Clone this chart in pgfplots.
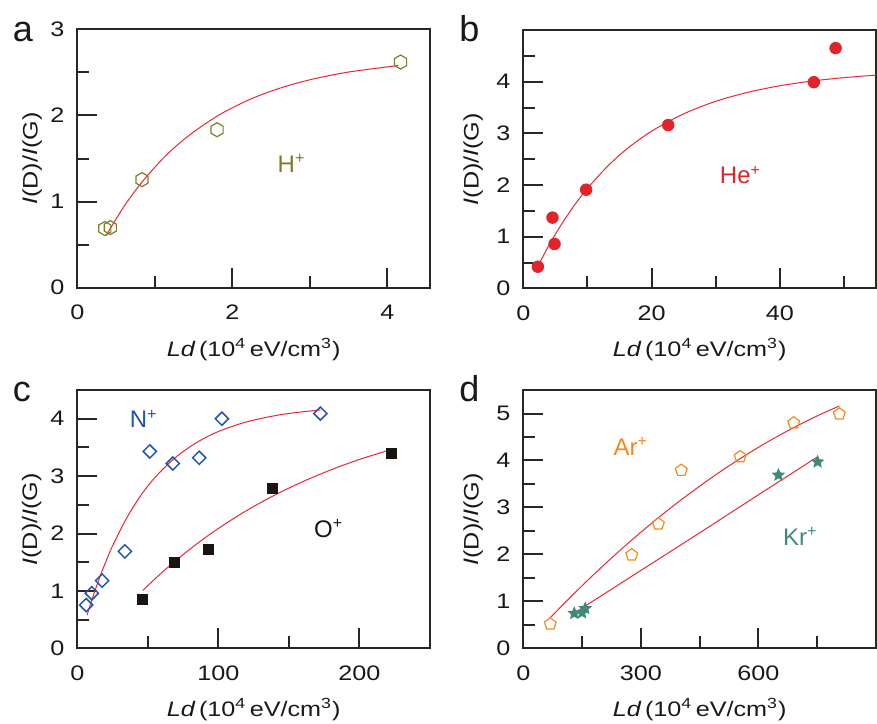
\documentclass[border=0pt]{standalone}
\usepackage{fontspec}
\setmainfont{Liberation Sans}[FakeStretch=1.2]
\newfontfamily\annfont{Liberation Sans}
\usepackage{pgfplots}
\pgfplotsset{compat=1.18}

\definecolor{hcol}{RGB}{125,125,40}
\definecolor{hecol}{RGB}{224,36,42}
\definecolor{ncol}{RGB}{34,85,165}
\definecolor{ocol}{RGB}{26,20,18}
\definecolor{arcol}{RGB}{242,138,31}
\definecolor{krcol}{RGB}{61,138,122}
\definecolor{fitred}{RGB}{232,40,50}
\definecolor{framecol}{RGB}{40,40,34}

\pgfdeclareplotmark{hexagon}{%
  \pgfpathmoveto{\pgfpointpolar{90}{\pgfplotmarksize}}%
  \pgfpathlineto{\pgfpointpolar{150}{\pgfplotmarksize}}%
  \pgfpathlineto{\pgfpointpolar{210}{\pgfplotmarksize}}%
  \pgfpathlineto{\pgfpointpolar{270}{\pgfplotmarksize}}%
  \pgfpathlineto{\pgfpointpolar{330}{\pgfplotmarksize}}%
  \pgfpathlineto{\pgfpointpolar{30}{\pgfplotmarksize}}%
  \pgfpathclose\pgfusepathqstroke}
\pgfdeclareplotmark{rdiamond}{%
  \pgfpathmoveto{\pgfqpoint{0pt}{\pgfplotmarksize}}%
  \pgfpathlineto{\pgfqpoint{\pgfplotmarksize}{0pt}}%
  \pgfpathlineto{\pgfqpoint{0pt}{-\pgfplotmarksize}}%
  \pgfpathlineto{\pgfqpoint{-\pgfplotmarksize}{0pt}}%
  \pgfpathclose\pgfusepathqstroke}
\pgfdeclareplotmark{fstar}{%
  \pgfpathmoveto{\pgfpointpolar{90}{\pgfplotmarksize}}%
  \pgfpathlineto{\pgfpointpolar{126}{0.45\pgfplotmarksize}}%
  \pgfpathlineto{\pgfpointpolar{162}{\pgfplotmarksize}}%
  \pgfpathlineto{\pgfpointpolar{198}{0.45\pgfplotmarksize}}%
  \pgfpathlineto{\pgfpointpolar{234}{\pgfplotmarksize}}%
  \pgfpathlineto{\pgfpointpolar{270}{0.45\pgfplotmarksize}}%
  \pgfpathlineto{\pgfpointpolar{306}{\pgfplotmarksize}}%
  \pgfpathlineto{\pgfpointpolar{342}{0.45\pgfplotmarksize}}%
  \pgfpathlineto{\pgfpointpolar{18}{\pgfplotmarksize}}%
  \pgfpathlineto{\pgfpointpolar{54}{0.45\pgfplotmarksize}}%
  \pgfpathclose\pgfusepathqfill}

\pgfplotsset{
  panel/.style={
    scale only axis, width=176.35pt, height=129.2pt,
    anchor=north west,
    xmin=0, ymin=0,
    axis line style={framecol, line width=1pt},
    tick align=inside, tick pos=left,
    major tick length=10pt, minor tick length=6pt,
    every tick/.style={framecol, line width=1pt},
    tick label style={font=\fontsize{10.5}{12}\selectfont, text=black!90},
    yticklabel style={inner sep=0pt, anchor=east, xshift=-6.25pt},
    xticklabel style={inner sep=0pt, anchor=north, yshift=-8.5pt},
    /pgf/number format/assume math mode=true,
    xlabel={\textit{Ld}\,(10\textsuperscript{4}\,eV/cm\textsuperscript{3})},
    ylabel={\textit{I}(D)/\textit{I}(G)},
    label style={font=\fontsize{10.5}{12}\selectfont, text=black!90},
    xlabel style={at={(axis description cs:0.5,-0.238)}, anchor=center},
  },
  fitline/.style={no marks, smooth, line width=0.5pt, color=fitred},
}
\tikzset{
  ann/.style={anchor=base west, inner sep=0pt, font=\annfont\fontsize{12}{14}\selectfont},
  plet/.style={anchor=base west, inner sep=0pt, font=\annfont\fontsize{18}{20}\selectfont, text=black!90},
}

\begin{document}
\begin{tikzpicture}
\useasboundingbox (0,0) rectangle (438.5pt,-361.5pt);

% panel letters
\node[plet] at (6.2pt,-20.85pt) {a};
\node[plet] at (229.5pt,-20.85pt) {b};
\node[plet] at (6.2pt,-200.85pt) {c};
\node[plet] at (229.5pt,-200.85pt) {d};

% ---------------- panel a
\begin{axis}[panel, at={(38.65pt,-14.65pt)},
  xmax=4.55, ymax=3,
  xtick={0,2,4}, minor xtick={1,3},
  ytick={0,1,2,3}, minor ytick={0.5,1.5,2.5},
  ylabel style={at={(axis description cs:-0.128,0.5)}, anchor=center}]
\addplot[only marks, mark=hexagon, mark size=3.5pt, color=hcol, line width=0.6pt]
  coordinates {(0.355,0.687) (0.426,0.698) (0.835,1.255) (1.803,1.834) (4.17,2.62)};
\addplot[fitline] coordinates {
  (0.37,0.605) (0.6,0.940) (0.83,1.221) (1.1,1.495) (1.4,1.740) (1.8,1.990)
  (2.2,2.176) (2.6,2.313) (3.0,2.414) (3.5,2.504) (4.14,2.579)};
\node[ann, text=hcol] at (axis cs:2.58,1.34) {H\textsuperscript{+}};
\end{axis}

% ---------------- panel b
\begin{axis}[panel, at={(261.65pt,-15pt)},
  xmax=55, ymax=5,
  xtick={0,20,40}, minor xtick={10,30,50},
  ytick={0,1,2,3,4}, minor ytick={0.5,1.5,2.5,3.5,4.5},
  ylabel style={at={(axis description cs:-0.142,0.5)}, anchor=center}]
\addplot[only marks, mark=*, mark size=2.9pt, color=hecol]
  coordinates {(2.27,0.42) (4.55,1.37) (4.87,0.86) (9.8,1.91) (22.6,3.16) (45.3,3.99) (48.7,4.65)};
\addplot[fitline] coordinates {
  (2.24,0.42) (4,0.834) (6,1.25) (8,1.615) (10,1.936) (13,2.346) (16,2.684)
  (20,3.042) (25,3.377) (30,3.62) (35,3.794) (40,3.921) (45,4.012) (50,4.078) (55,4.126)};
\node[ann, text=hecol] at (axis cs:30.6,2.025) {He\textsuperscript{+}};
\end{axis}

% ---------------- panel c
\begin{axis}[panel, at={(38.65pt,-195pt)},
  xmax=250, ymax=4.5,
  xtick={0,100,200}, minor xtick={50,150},
  ytick={0,1,2,3,4}, minor ytick={0.5,1.5,2.5,3.5},
  ylabel style={at={(axis description cs:-0.129,0.5)}, anchor=center}]
\addplot[only marks, mark=rdiamond, mark size=3.3pt, color=ncol, line width=0.75pt]
  coordinates {(6.3,0.755) (10.3,0.96) (17.6,1.18) (33.7,1.69) (51.4,3.43) (67.7,3.22) (86.4,3.32) (102.5,4.0) (172.3,4.09)};
\addplot[only marks, mark=square*, mark size=2.5pt, color=ocol]
  coordinates {(46.4,0.85) (68.9,1.50) (92.8,1.72) (138.2,2.79) (222.7,3.39)};
\addplot[fitline] coordinates {
  (6.9,0.58) (12,0.969) (18,1.375) (25,1.786) (35,2.272) (45,2.663) (55,2.976)
  (70,3.334) (85,3.592) (100,3.777) (120,3.945) (145,4.074) (172.4,4.154)};
\addplot[fitline] coordinates {
  (46.4,1.01) (60,1.323) (75,1.635) (90,1.917) (105,2.171) (120,2.400)
  (140,2.671) (160,2.906) (180,3.112) (200,3.291) (223.3,3.470)};
\node[ann, text=ncol] at (axis cs:36.9,3.84) {N\textsuperscript{+}};
\node[ann, text=ocol] at (axis cs:167.6,1.935) {O\textsuperscript{+}};
\end{axis}

% ---------------- panel d
\begin{axis}[panel, at={(261.65pt,-195pt)},
  xmax=900, ymax=5.5,
  xtick={0,300,600}, minor xtick={150,450,750},
  ytick={0,1,2,3,4,5}, minor ytick={0.5,1.5,2.5,3.5,4.5},
  ylabel style={at={(axis description cs:-0.142,0.5)}, anchor=center}]
\addplot[only marks, mark=pentagon, mark size=3.1pt, color=arcol, line width=0.6pt]
  coordinates {(68.8,0.52) (276.7,1.99) (344.6,2.65) (403,3.79) (553.5,4.08) (690,4.80) (806.5,4.99)};
\addplot[only marks, mark=fstar, mark size=3.6pt, color=krcol]
  coordinates {(130,0.745) (150,0.76) (158,0.85) (651,3.69) (751,3.97)};
\addplot[fitline] coordinates {
  (67.2,0.64) (100,0.921) (150,1.335) (200,1.732) (250,2.111) (300,2.473)
  (350,2.817) (400,3.145) (450,3.454) (500,3.747) (550,4.022) (600,4.280)
  (650,4.520) (700,4.743) (750,4.949) (806.5,5.160)};
\addplot[fitline] coordinates {
  (130.8,0.757) (300,1.66) (450,2.46) (600,3.27) (751.3,4.08)};
\node[ann, text=arcol] at (axis cs:229.2,4.11) {Ar\textsuperscript{+}};
\node[ann, text=krcol] at (axis cs:662,2.20) {Kr\textsuperscript{+}};
\end{axis}
\end{tikzpicture}
\end{document}
